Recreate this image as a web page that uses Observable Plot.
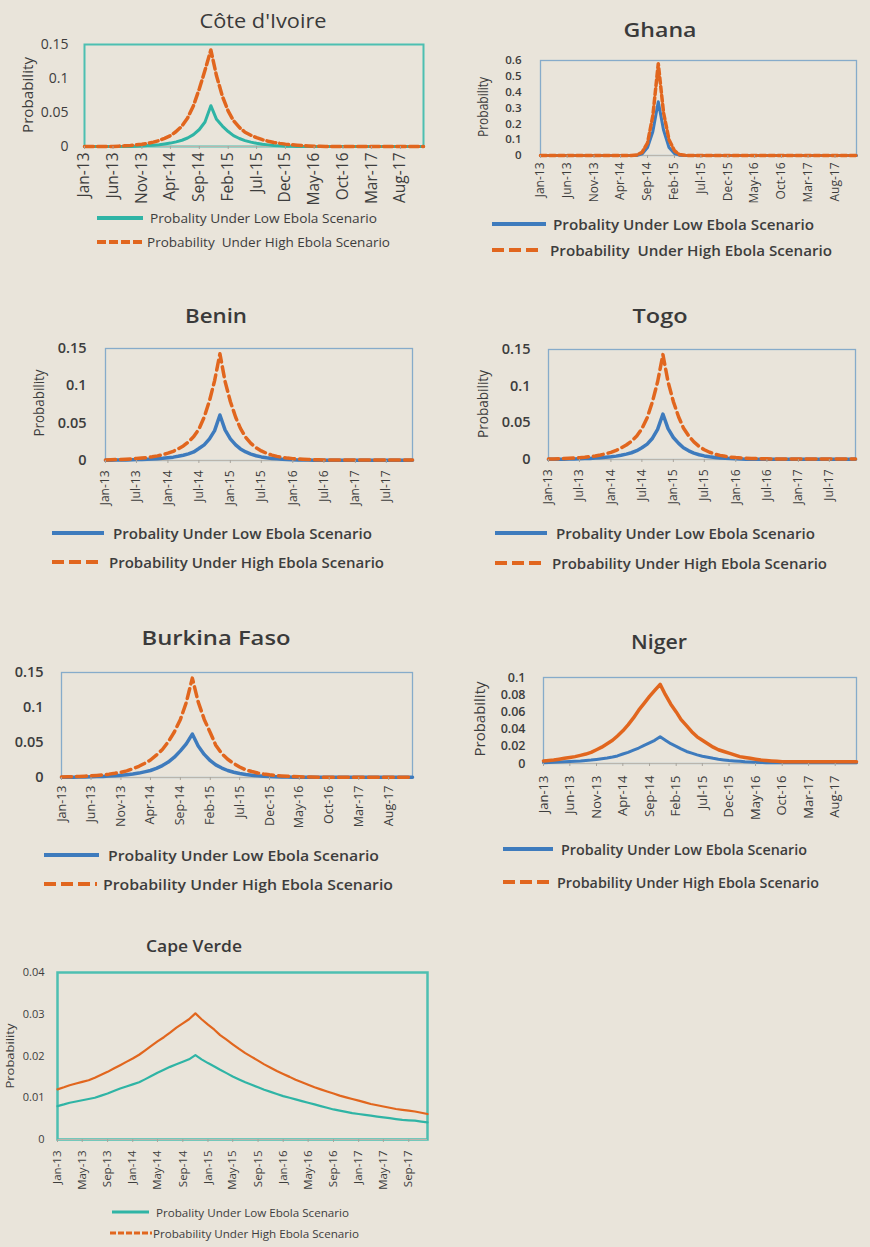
<!DOCTYPE html>
<html><head><meta charset="utf-8">
<script src="https://cdn.jsdelivr.net/npm/d3@7"></script>
<script src="https://cdn.jsdelivr.net/npm/@observablehq/plot@0.6"></script>
<style>
body{margin:0;background:#e9e4da;}
#page{position:relative;width:870px;height:1247px;background:#e9e4da;overflow:hidden;font-family:"Open Sans",sans-serif;}
#overlay{position:absolute;left:0;top:0;pointer-events:none;}
</style></head><body><div id="page"></div>
<script>
// ---------- DATA (monthly, Jan-13 .. Dec-17) ----------
const coteLow = [0,0,0,0,0,0,0,0,0,0.0004,0.0008,0.0013,0.0019,0.0027,0.0037,0.005,0.0068,0.0092,0.0125,0.0175,0.025,0.036,0.060,0.040,0.030,0.022,0.016,0.0118,0.0087,0.0064,0.0047,0.0034,0.0024,0.0016,0.001,0.0005,0.0002,0,0,0,0,0,0,0,0,0,0,0,0,0,0,0,0,0,0,0,0,0,0,0];
const coteHigh = [0,0,0,0,0,0,0.0005,0.001,0.0016,0.0024,0.0034,0.0047,0.0064,0.0088,0.012,0.016,0.022,0.030,0.042,0.060,0.085,0.112,0.142,0.104,0.074,0.052,0.038,0.028,0.021,0.0165,0.013,0.010,0.0078,0.006,0.0046,0.0035,0.0026,0.0019,0.0013,0.0008,0.0004,0.0002,0,0,0,0,0,0,0,0,0,0,0,0,0,0,0,0,0,0];
const ghanaLow = [0,0,0,0,0,0,0,0,0,0,0,0,0,0,0,0,0,0,0,0.01,0.05,0.15,0.34,0.16,0.05,0.012,0.002,0,0,0,0,0,0,0,0,0,0,0,0,0,0,0,0,0,0,0,0,0,0,0,0,0,0,0,0,0,0,0,0,0];
const ghanaHigh = [0,0,0,0,0,0,0,0,0,0,0,0,0,0,0,0,0,0,0.003,0.02,0.08,0.25,0.58,0.27,0.10,0.03,0.006,0.001,0,0,0,0,0,0,0,0,0,0,0,0,0,0,0,0,0,0,0,0,0,0,0,0,0,0,0,0,0,0,0,0];
const beninLow = [0.0004,0.0005,0.0006,0.0007,0.0008,0.001,0.0012,0.0014,0.0017,0.002,0.0025,0.003,0.0037,0.0045,0.0056,0.007,0.0088,0.0115,0.016,0.021,0.029,0.040,0.061,0.041,0.029,0.021,0.0155,0.0115,0.0085,0.0064,0.0048,0.0037,0.0028,0.0022,0.0017,0.0013,0.001,0.0008,0.0007,0.0006,0.0005,0.0005,0.0005,0.0005,0.0005,0.0005,0.0005,0.0005,0.0005,0.0005,0.0005,0.0005,0.0005,0.0005,0.0005,0.0005,0.0005,0.0005,0.0005,0.0005];
const beninHigh = [0.0008,0.001,0.0012,0.0015,0.0018,0.0022,0.0027,0.0033,0.004,0.005,0.0062,0.0078,0.0098,0.0123,0.0155,0.0195,0.025,0.032,0.042,0.058,0.080,0.107,0.143,0.106,0.079,0.058,0.043,0.031,0.023,0.017,0.0128,0.0096,0.0072,0.0055,0.0042,0.0032,0.0025,0.002,0.0016,0.0013,0.0011,0.0009,0.0008,0.0007,0.0007,0.0007,0.0007,0.0007,0.0007,0.0007,0.0006,0.0006,0.0006,0.0006,0.0006,0.0006,0.0006,0.0006,0.0006,0.0006];
const togoLow = [0.0002,0.0003,0.0004,0.0005,0.0006,0.0008,0.001,0.0012,0.0015,0.0019,0.0024,0.003,0.0037,0.0046,0.0058,0.0073,0.0092,0.012,0.016,0.021,0.029,0.041,0.062,0.042,0.030,0.022,0.016,0.0118,0.0087,0.0065,0.0049,0.0037,0.0028,0.0021,0.0016,0.0012,0.0009,0.0007,0.0005,0.0004,0.0003,0.0003,0.0003,0.0003,0.0003,0.0003,0.0003,0.0003,0.0003,0.0003,0.0003,0.0003,0.0003,0.0003,0.0003,0.0003,0.0003,0.0003,0.0003,0.0003];
const togoHigh = [0.0006,0.0008,0.001,0.0013,0.0016,0.002,0.0025,0.0031,0.0039,0.0049,0.0062,0.0078,0.0098,0.0124,0.0157,0.0198,0.025,0.032,0.042,0.057,0.079,0.106,0.143,0.106,0.079,0.058,0.043,0.032,0.024,0.0178,0.0133,0.0099,0.0074,0.0056,0.0043,0.0033,0.0026,0.0021,0.0017,0.0014,0.0012,0.001,0.0009,0.0008,0.0008,0.0008,0.0008,0.0008,0.0008,0.0008,0.0008,0.0008,0.0008,0.0008,0.0008,0.0008,0.0008,0.0008,0.0008,0.0008];
const burkinaLow = [0.0003,0.0004,0.0005,0.0006,0.0008,0.001,0.0013,0.0016,0.002,0.0025,0.0032,0.004,0.005,0.0063,0.008,0.010,0.013,0.017,0.022,0.029,0.038,0.048,0.062,0.045,0.033,0.024,0.018,0.0135,0.010,0.0075,0.0056,0.0042,0.0032,0.0024,0.0018,0.0014,0.0011,0.0008,0.0006,0.0005,0.0004,0.0004,0.0004,0.0004,0.0004,0.0004,0.0004,0.0004,0.0004,0.0004,0.0004,0.0004,0.0004,0.0004,0.0004,0.0004,0.0004,0.0004,0.0004,0.0004];
const burkinaHigh = [0.0008,0.001,0.0012,0.0015,0.0019,0.0024,0.003,0.0038,0.0048,0.006,0.0075,0.0095,0.0125,0.016,0.020,0.025,0.032,0.040,0.051,0.065,0.083,0.107,0.142,0.108,0.083,0.064,0.046,0.034,0.026,0.020,0.015,0.011,0.0085,0.0065,0.005,0.0038,0.0029,0.0022,0.0017,0.0013,0.001,0.0008,0.0006,0.0005,0.0004,0.0004,0.0004,0.0004,0.0004,0.0004,0.0004,0.0004,0.0004,0.0004,0.0004,0.0004,0.0004,0.0004,0.0004,0.0004];
const nigerLow = [0.001,0.0012,0.0014,0.0017,0.002,0.0023,0.0027,0.003,0.0035,0.004,0.0047,0.0055,0.0064,0.0075,0.0088,0.011,0.013,0.0155,0.018,0.021,0.024,0.027,0.031,0.027,0.023,0.020,0.017,0.014,0.012,0.010,0.0085,0.0072,0.006,0.005,0.0042,0.0035,0.003,0.0025,0.002,0.0017,0.0014,0.0012,0.001,0.001,0.001,0.001,0.001,0.001,0.001,0.001,0.001,0.001,0.001,0.001,0.001,0.001,0.001,0.001,0.001,0.001];
const nigerHigh = [0.003,0.0035,0.004,0.005,0.006,0.007,0.008,0.0095,0.011,0.013,0.016,0.019,0.023,0.027,0.032,0.038,0.045,0.053,0.062,0.070,0.078,0.085,0.092,0.080,0.069,0.060,0.051,0.044,0.037,0.031,0.027,0.023,0.019,0.016,0.014,0.012,0.010,0.008,0.007,0.006,0.005,0.004,0.0035,0.003,0.0025,0.002,0.002,0.002,0.002,0.002,0.002,0.002,0.002,0.002,0.002,0.002,0.002,0.002,0.002,0.002];
const capeLow = [0.0080,0.0084,0.0088,0.0091,0.0094,0.0097,0.0100,0.0105,0.0110,0.0116,0.0122,0.0127,0.0132,0.0137,0.0144,0.0152,0.0160,0.0167,0.0174,0.0180,0.0186,0.0192,0.0202,0.0192,0.0183,0.0175,0.0167,0.0159,0.0151,0.0144,0.0137,0.0131,0.0125,0.0119,0.0114,0.0109,0.0104,0.0100,0.0096,0.0092,0.0088,0.0084,0.0080,0.0076,0.0072,0.0069,0.0066,0.0063,0.0061,0.0059,0.0057,0.0055,0.0053,0.0051,0.0049,0.0047,0.0046,0.0045,0.0043,0.0041];
const capeHigh = [0.0120,0.0125,0.0130,0.0134,0.0138,0.0142,0.0148,0.0155,0.0162,0.0170,0.0178,0.0186,0.0194,0.0203,0.0213,0.0224,0.0235,0.0245,0.0256,0.0268,0.0278,0.0288,0.0302,0.0288,0.0275,0.0263,0.0250,0.0239,0.0228,0.0217,0.0207,0.0198,0.0189,0.0180,0.0172,0.0164,0.0157,0.0150,0.0143,0.0137,0.0131,0.0125,0.0120,0.0115,0.0110,0.0105,0.0101,0.0097,0.0093,0.0089,0.0085,0.0082,0.0079,0.0076,0.0073,0.0071,0.0069,0.0067,0.0064,0.0061];

const ticks5 = ["2013-01","2013-06","2013-11","2014-04","2014-09","2015-02","2015-07","2015-12","2016-05","2016-10","2017-03","2017-08"];
const ticks6 = ["2013-01","2013-07","2014-01","2014-07","2015-01","2015-07","2016-01","2016-07","2017-01","2017-07"];
const ticks4 = ["2013-01","2013-05","2013-09","2014-01","2014-05","2014-09","2015-01","2015-05","2015-09","2016-01","2016-05","2016-09","2017-01","2017-05","2017-09"];
const yTicks015 = [0, 0.05, 0.1, 0.15];
const yTicksGhana = [0, 0.1, 0.2, 0.3, 0.4, 0.5, 0.6];
const yTicksNiger = [0, 0.02, 0.04, 0.06, 0.08, 0.1];
const yTicksCape = [0, 0.01, 0.02, 0.03, 0.04];

const lowLabel = "Probality Under Low Ebola Scenario";
const highLabel = "Probability Under High Ebola Scenario";
const highLabel2 = "Probability  Under High Ebola Scenario";

// ---------- STYLE ----------
const orange = "#e1661e", blue = "#3e7bbd", teal = "#2fb4a5";
const frameBlue = "#86abca", frameTeal = "#4dbfb1", textColor = "#3d3d3d";
const parseM = d3.utcParse("%Y-%m");
const fmt = d3.utcFormat("%b-%y");
const months = d3.utcMonth.range(new Date(Date.UTC(2013,0,1)), new Date(Date.UTC(2018,0,1)));

const panels = [
 {low: coteLow, high: coteHigh, yMax: 0.15, yTicks: yTicks015, xTicks: ticks5, frame: [84,44,423,146], fc: frameTeal, fw: 2, lc: teal, lw: 3, hw: 3.5, dash: "9,4", yFont: 14, yWeight: 400, yPad: 16, xFont: 15.5, xGap: 6,
  title: {t: "Côte d'Ivoire", x: 263, y: 20, s: 20, w: 400, len: 127}, ylab: {x: 27, y: 95, len: 76, s: 15},
  leg: {s1: [97,143,218], t1: [150, 227], s2: [97,143,242], t2: [147, 243], hl: highLabel2, s: 13, w: 400, lw: 4, dash: "9,3"}},
 {low: ghanaLow, high: ghanaHigh, yMax: 0.6, yTicks: yTicksGhana, xTicks: ticks5, frame: [540,60,856,155], fc: frameBlue, fw: 1.3, lc: blue, lw: 3, hw: 3.5, dash: "6,3", yFont: 11.5, yWeight: 600, yPad: 19, xFont: 12, xGap: 7,
  title: {t: "Ghana", x: 660, y: 30, s: 19, w: 600, len: 73}, ylab: {x: 482, y: 107, len: 60, s: 14},
  leg: {s1: [492,546,224], t1: [553, 261], s2: [492,543,250], t2: [550, 282], hl: highLabel2, s: 14, w: 600, lw: 4, dash: "12,5"}},
 {low: beninLow, high: beninHigh, yMax: 0.15, yTicks: yTicks015, xTicks: ticks6, frame: [105,348,412,460], fc: frameBlue, fw: 1.3, lc: blue, lw: 3.5, hw: 3.5, dash: "10,5", yFont: 14.5, yWeight: 600, yPad: 19, xFont: 12, xGap: 10,
  title: {t: "Benin", x: 216, y: 315, s: 20, w: 600, len: 62}, ylab: {x: 38, y: 403, len: 67, s: 15},
  leg: {s1: [52,104,533], t1: [113, 259], s2: [52,102,562], t2: [109, 275], hl: highLabel, s: 14, w: 600, lw: 4, dash: "12,5"}},
 {low: togoLow, high: togoHigh, yMax: 0.15, yTicks: yTicks015, xTicks: ticks6, frame: [548,349,855,459], fc: frameBlue, fw: 1.3, lc: blue, lw: 3.5, hw: 3.5, dash: "10,5", yFont: 14.5, yWeight: 600, yPad: 18, xFont: 12, xGap: 10,
  title: {t: "Togo", x: 660, y: 315, s: 20, w: 600, len: 55}, ylab: {x: 482, y: 404, len: 68, s: 15},
  leg: {s1: [495,547,533], t1: [556, 259], s2: [495,545,563], t2: [552, 275], hl: highLabel, s: 14, w: 600, lw: 4, dash: "12,5"}},
 {low: burkinaLow, high: burkinaHigh, yMax: 0.15, yTicks: yTicks015, xTicks: ticks5, frame: [61,672,412,777], fc: frameBlue, fw: 1.3, lc: blue, lw: 3.5, hw: 3.5, dash: "10,5", yFont: 14.5, yWeight: 600, yPad: 18, xFont: 12.5, xGap: 8,
  title: {t: "Burkina Faso", x: 216, y: 637, s: 20, w: 600, len: 149}, ylab: null,
  leg: {s1: [44,99,855], t1: [108, 271], s2: [44,97,884], t2: [103, 290], hl: highLabel, s: 14, w: 600, lw: 4, dash: "12,5"}},
 {low: nigerLow, high: nigerHigh, yMax: 0.1, yTicks: yTicksNiger, xTicks: ticks5, frame: [543,677,856,763], fc: frameBlue, fw: 1.3, lc: blue, lw: 3, hw: 3.5, dash: null, yFont: 12.5, yWeight: 600, yPad: 18, xFont: 13, xGap: 12,
  title: {t: "Niger", x: 659, y: 641, s: 20, w: 600, len: 56}, ylab: {x: 479, y: 719, len: 75, s: 15},
  leg: {s1: [503,553,849], t1: [561, 246], s2: [503,550,882], t2: [557, 262], hl: highLabel, s: 14, w: 600, lw: 4, dash: "12,5"}},
 {low: capeLow, high: capeHigh, yMax: 0.04, yTicks: yTicksCape, xTicks: ticks4, frame: [57,972,427,1139], fc: frameTeal, fw: 2.5, lc: teal, lw: 2.2, hw: 2.2, dash: null, yFont: 11, yWeight: 400, yPad: 13, xFont: 11.5, xGap: 11,
  title: {t: "Cape Verde", x: 194, y: 945, s: 17, w: 600, len: 96}, ylab: {x: 9, y: 1056, len: 65, s: 11},
  leg: {s1: [112,149,1212], t1: [156, 193], s2: [110,152,1233], t2: [153, 206], hl: highLabel, s: 11, w: 400, lw: 3, dash: "6,2"}}
];

const page = document.getElementById("page");

function drawPanel(p) {
  const [fl, ft, fr, fb] = p.frame;
  const ml = 80, mr = 6, mt = 6, mb = 70;
  const W = fr - fl + ml + mr, H = fb - ft + mt + mb;
  const data = months.map((d, i) => ({date: d, low: p.low[i], high: p.high[i]}));
  const chart = Plot.plot({
    width: W, height: H, marginLeft: ml, marginRight: mr, marginTop: mt, marginBottom: mb,
    style: {background: "transparent", color: textColor, fontFamily: "'Open Sans', sans-serif", overflow: "visible"},
    x: {type: "utc", domain: [months[0], months[months.length - 1]]},
    y: {domain: [0, p.yMax]},
    marks: [
      Plot.frame({stroke: p.fc, strokeWidth: p.fw}),
      Plot.ruleY([0], {stroke: "#b9b5ad", strokeWidth: 1}),
      Plot.line(data, {x: "date", y: "low", stroke: p.lc, strokeWidth: p.lw}),
      Plot.line(data, {x: "date", y: "high", stroke: orange, strokeWidth: p.hw, strokeDasharray: p.dash || undefined}),
      Plot.axisY({ticks: p.yTicks, tickFormat: d => String(d), tickSize: 0, tickPadding: p.yPad, fontSize: p.yFont, fontWeight: p.yWeight, label: null}),
      Plot.axisX({ticks: p.xTicks.map(parseM), tickFormat: fmt, tickRotate: -90, tickSize: 3, tickPadding: p.xGap - 3, fontSize: p.xFont, label: null, stroke: "#a9a59d"})
    ]
  });
  chart.style.position = "absolute";
  chart.style.left = (fl - ml) + "px";
  chart.style.top = (ft - mt) + "px";
  page.append(chart);
}
panels.forEach(drawPanel);

// ---------- overlay text: titles, y labels, legends ----------
const ov = d3.select(page).append("svg").attr("id", "overlay").attr("width", 870).attr("height", 1247)
  .style("font-family", "'Open Sans', sans-serif");
panels.forEach(p => {
  const t = p.title;
  ov.append("text").attr("x", t.x).attr("y", t.y).attr("text-anchor", "middle").attr("dominant-baseline", "central")
    .attr("font-size", t.s).attr("font-weight", t.w).attr("fill", "#3a3a3a")
    .attr("textLength", t.len).attr("lengthAdjust", "spacingAndGlyphs").text(t.t);
  if (p.ylab) {
    const y = p.ylab;
    ov.append("text").attr("transform", `translate(${y.x},${y.y}) rotate(-90)`).attr("text-anchor", "middle").attr("dominant-baseline", "central")
      .attr("font-size", y.s).attr("fill", textColor)
      .attr("textLength", y.len).attr("lengthAdjust", "spacingAndGlyphs").text("Probability");
  }
  const L = p.leg;
  ov.append("line").attr("x1", L.s1[0]).attr("x2", L.s1[1]).attr("y1", L.s1[2]).attr("y2", L.s1[2])
    .attr("stroke", p.lc).attr("stroke-width", L.lw);
  ov.append("text").attr("x", L.t1[0]).attr("y", L.s1[2]).attr("dominant-baseline", "central")
    .attr("font-size", L.s).attr("font-weight", L.w).attr("fill", textColor)
    .attr("textLength", L.t1[1]).attr("lengthAdjust", "spacingAndGlyphs").text(lowLabel);
  ov.append("line").attr("x1", L.s2[0]).attr("x2", L.s2[1]).attr("y1", L.s2[2]).attr("y2", L.s2[2])
    .attr("stroke", orange).attr("stroke-width", L.lw).attr("stroke-dasharray", L.dash);
  ov.append("text").attr("x", L.t2[0]).attr("y", L.s2[2]).attr("dominant-baseline", "central")
    .attr("font-size", L.s).attr("font-weight", L.w).attr("fill", textColor).style("white-space", "pre")
    .attr("textLength", L.t2[1]).attr("lengthAdjust", "spacingAndGlyphs").text(L.hl);
});
</script></body></html>
